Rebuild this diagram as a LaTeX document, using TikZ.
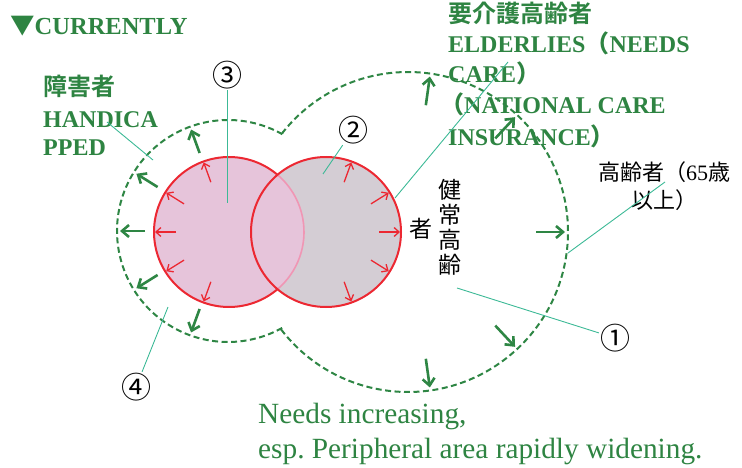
\documentclass[tikz,border=0pt]{standalone}
\usepackage{fontspec}
\setmainfont{Liberation Serif}
\newfontfamily\jp{Noto Sans CJK JP}
\newfontfamily\jpb{Noto Sans CJK JP Bold}
\usetikzlibrary{arrows.meta,calc}
\definecolor{dgreen}{RGB}{46,134,68}
\definecolor{tgreen}{RGB}{46,132,66}
\definecolor{cred}{RGB}{236,40,50}
\definecolor{cpink}{RGB}{230,196,218}
\definecolor{cgrey}{RGB}{212,205,212}
\definecolor{lpink}{RGB}{240,150,180}
\definecolor{cteal}{RGB}{60,185,150}
\frenchspacing
\begin{document}
\begin{tikzpicture}[x=1pt,y=1pt,
  gdash/.style={draw=dgreen, line width=2pt, dash pattern=on 6pt off 3.5pt},
  redarr/.style={draw=cred, line width=1.3pt, -{Straight Barb[length=5pt,width=9pt]}},
  grnarr/.style={draw=dgreen, line width=2.6pt, -{Straight Barb[length=7pt,width=12pt]}},
  lead/.style={draw=cteal, line width=0.9pt},
  glbl/.style={inner sep=0pt, anchor=base west, text=tgreen, font=\bfseries\fontsize{24}{24}\selectfont},
  jglbl/.style={inner sep=0pt, anchor=base west, text=tgreen, font=\jpb\fontsize{24}{24}\selectfont},
  blk/.style={inner sep=0pt, text=black, font=\jp\fontsize{22}{22}\selectfont},
  vchar/.style={inner sep=0pt, text=black, font=\jp\fontsize{23}{23}\selectfont},
  num/.style={inner sep=1pt, text=black, font=\jp\fontsize{30}{30}\selectfont},
  note/.style={inner sep=0pt, anchor=base west, text=tgreen, font=\fontsize{29.3}{29.3}\selectfont}
]
\useasboundingbox (0,0) rectangle (742,467);
\coordinate (Lg) at (228,236);
\coordinate (Rg) at (408,235);
\coordinate (Lc) at (229,235);
\coordinate (Rc) at (326,235);
% circles
\fill[cgrey] (Rc) circle[radius=75];
\fill[cpink] (Lc) circle[radius=75];
\draw[lpink, line width=1.6pt] ($(Lc)+(-49.7:75)$) arc[start angle=-49.7, end angle=49.7, radius=75];
\draw[cred, line width=2pt] ($(Lc)+(49.7:75)$) arc[start angle=49.7, end angle=310.3, radius=75];
\draw[cred, line width=2pt] (Rc) circle[radius=75];
% red arrows
\foreach \a in {110,148,180,212,250} \draw[redarr] ($(Lc)+(\a:53)$) -- ($(Lc)+(\a:74)$);
\foreach \a in {70,32,0,-32,-70} \draw[redarr] ($(Rc)+(\a:53)$) -- ($(Rc)+(\a:74)$);
% green dashed outline
\draw[gdash] ($(Lg)+(60.7:111)$) arc[start angle=60.7, end angle=299.6, radius=111]
  -- ($(Rg)+(217.5:160)$) arc[start angle=217.5, end angle=501.6, radius=160] -- cycle;
% green arrows
\foreach \a in {110,148,180,212,250} \draw[grnarr] ($(Lg)+(\a:83)$) -- ($(Lg)+(\a:108)$);
\foreach \a in {82,47,0,-47,-82} \draw[grnarr] ($(Rg)+(\a:128)$) -- ($(Rg)+(\a:157)$);
% titles
\node[glbl, font=\bfseries\fontsize{24.5}{24.5}\selectfont] (cur) at (10,432) {{\jp ▼}CURRENTLY};
\node[jglbl] (h1) at (448,444) {要介護高齢者};
\node[glbl] (e1) at (448,414) {ELDERLIES{\jpb （}NEEDS};
\node[glbl] (e2) at (448,384) {CARE{\jpb ）}};
\node[glbl] (e3) at (440,353) {{\jpb （}NATIONAL CARE};
\node[glbl] (e4) at (448,322) {INSURANCE{\jpb ）}};
\node[jglbl] (h2) at (43,371.5) {障害者};
\node[glbl] (hc1) at (43,340) {HANDICA};
\node[glbl] (hc2) at (43,312) {PPED};
% black texts
\node[blk, anchor=base] (k1) at (664,286.5) {高齢者（{\rmfamily 65}歳};
\node[blk, anchor=base] (k2) at (664,258.5) {以上）};
\node[vchar] (v1) at (450,277) {健};
\node[vchar] (v2) at (450,252) {常};
\node[vchar] (v3) at (450,227) {高};
\node[vchar] (v4) at (450,202) {齢};
\node[vchar] (v5) at (421,238) {者};
% numbers
\node[num] (n1) at (615,129) {①};
\node[num] (n2) at (353,337) {②};
\node[num] (n3) at (227,392) {③};
\node[num] (n4) at (136,80) {④};
% leader lines
\coordinate (c1) at (457,179);
\coordinate (c2) at (323,293);
\coordinate (c3) at (227,264);
\coordinate (c4) at (168,160);
\coordinate (ha) at (107,345);
\coordinate (hb) at (153,307);
\coordinate (ea) at (508,405);
\coordinate (eb) at (395,269);
\coordinate (ka) at (665,285);
\coordinate (kb) at (568,214);
\draw[lead] (c1) -- (n1);
\draw[lead] (n2) -- (c2);
\draw[lead] (n3) -- (c3);
\draw[lead] (n4) -- (c4);
\draw[lead] (ha) -- (hb);
\draw[lead] (ea) -- (eb);
\draw[lead] (ka) -- (kb);
% bottom note
\node[note] (t1) at (258,44) {Needs increasing,};
\node[note] (t2) at (258,9) {esp. Peripheral area rapidly widening.};
\end{tikzpicture}
\end{document}
